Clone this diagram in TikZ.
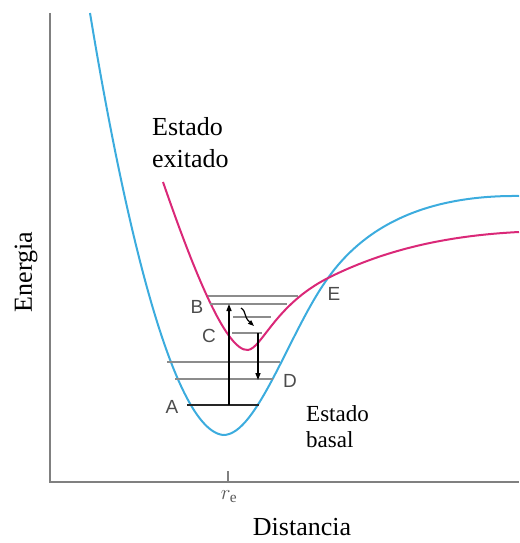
\documentclass[tikz,border=0pt]{standalone}
\usepackage{fontspec}
\setmainfont{Liberation Serif}
\newfontfamily\lblfont{Liberation Sans}
\usetikzlibrary{arrows.meta}
\definecolor{gcyan}{RGB}{60,172,222}
\definecolor{emag}{RGB}{218,40,120}
\definecolor{axgray}{RGB}{128,128,128}
\definecolor{lvgray}{RGB}{140,140,140}
\tikzset{
  axisline/.style={draw=axgray, line width=2.4pt},
  groundcurve/.style={draw=gcyan, line width=2pt},
  excitedcurve/.style={draw=emag, line width=2pt},
  level/.style={draw=lvgray, line width=2pt},
  baselevel/.style={draw=black!85, line width=1.6pt},
  trans/.style={draw=black, line width=1.5pt, -{Triangle[length=7pt,width=5pt]}},
  ptlabel/.style={font=\lblfont\fontsize{19}{20}\selectfont, text=black!70, inner sep=0pt},
  txtlabel/.style={font=\fontsize{26}{32}\selectfont, inner sep=0pt, align=left},
}
\begin{document}
\begin{tikzpicture}[x=1pt,y=-1pt]
\useasboundingbox (0,0) rectangle (519,543);
% axes
\coordinate (ytop) at (50,13);
\coordinate (orig) at (50,482);
\coordinate (xend) at (519,482);
\draw[axisline] (ytop) -- (orig) -- (xend);
\coordinate (tickb) at (228,482);
\coordinate (tickt) at (228,471);
\draw[axisline, line width=1.8pt] (tickb) -- (tickt);
% crossing point E
\coordinate (X) at (328,278);
% ground state curve
\draw[groundcurve] (90,13) .. controls (115,165) and (166,428) .. (223,435)
  .. controls (257,436) and (290,330) .. (X)
  .. controls (362,230) and (420,195) .. (519,196);
% excited state curve
\draw[excitedcurve] (163,182) .. controls (190,260) and (225,352) .. (248,350)
  .. controls (262,348) and (275,305) .. (X)
  .. controls (380,252) and (440,236) .. (519,232);
% vibrational levels of excited state
\coordinate (e1l) at (208,296); \coordinate (e1r) at (298,296);
\coordinate (e2l) at (210,304); \coordinate (e2r) at (287,304);
\coordinate (e3l) at (233,317); \coordinate (e3r) at (271,317);
\coordinate (e4l) at (232,333); \coordinate (e4r) at (262,333);
\draw[level] (e1l) -- (e1r);
\draw[level] (e2l) -- (e2r);
\draw[level] (e3l) -- (e3r);
\draw[level] (e4l) -- (e4r);
% vibrational levels of ground state
\coordinate (g1l) at (167,362); \coordinate (g1r) at (280,362);
\coordinate (g2l) at (175,379); \coordinate (g2r) at (273,379);
\coordinate (g3l) at (187,405); \coordinate (g3r) at (259,405);
\draw[level] (g1l) -- (g1r);
\draw[level] (g2l) -- (g2r);
\draw[baselevel] (g3l) -- (g3r);
% transitions
\coordinate (absb) at (229,405); \coordinate (abst) at (229,304);
\draw[trans] (absb) -- (abst);
\coordinate (emt) at (258,333); \coordinate (emb) at (258,380);
\draw[trans] (emt) -- (emb);
\coordinate (relt) at (241,308); \coordinate (relb) at (254,326);
\draw[trans, line width=1.2pt, -{Triangle[length=6pt,width=4.5pt]}] (relt) .. controls (247,312) and (243,316) .. (relb);
% point labels
\node[ptlabel] (lA) at (172,407) {A};
\node[ptlabel] (lB) at (197,307) {B};
\node[ptlabel] (lC) at (209,336) {C};
\node[ptlabel] (lD) at (290,381) {D};
\node[ptlabel] (lE) at (334,294) {E};
% text labels
\node[txtlabel, anchor=west] (exc) at (152,143) {Estado\\exitado};
\node[txtlabel, anchor=west, font=\fontsize{23}{26}\selectfont] (bas) at (306,427) {Estado\\basal};
\node[txtlabel, rotate=90] (ener) at (26,272) {Energia};
\node[inner sep=0pt, text=black!65, font=\fontsize{22}{24}\selectfont] (re) at (229,497) {$r_{\mathrm{e}}$};
\node[txtlabel] (dist) at (302,527) {Distancia};
\end{tikzpicture}
\end{document}
